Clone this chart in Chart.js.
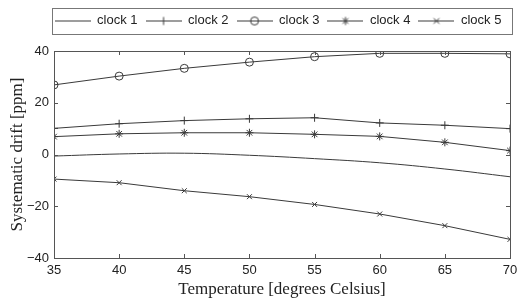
<!DOCTYPE html>
<html>
<head>
<meta charset="utf-8">
<script src="https://cdn.jsdelivr.net/npm/chart.js@4.4.1/dist/chart.umd.min.js"></script>
<style>
  html, body { margin: 0; padding: 0; background: #fff; }
  #wrap { width: 518px; height: 303px; }
</style>
</head>
<body>
<div id="wrap"><canvas id="myChart"></canvas></div>
<script>
var temps = [35, 40, 45, 50, 55, 60, 65, 70];
var names = ["clock 1", "clock 2", "clock 3", "clock 4", "clock 5"];
var clock1 = [-0.6, 0.2, 0.5, -0.3, -1.6, -3.2, -5.6, -8.6];
var clock2 = [10.1, 11.9, 13.1, 13.8, 14.2, 12.2, 11.3, 10.0];
var clock3 = [26.9, 30.3, 33.3, 35.7, 37.8, 39.1, 39.1, 38.9];
var clock4 = [6.9, 8.0, 8.4, 8.4, 7.8, 7.0, 4.7, 1.5];
var clock5 = [-9.5, -10.9, -14.0, -16.3, -19.3, -23.0, -27.5, -32.8];
var markers = [false, "cross", "circle", "star", "crossRot"];
var lineColor = "#3a3a3a";

function pts(vals) {
  return vals.map(function (v, i) { return {x: temps[i], y: v}; });
}

// legend sample: short line with the marker in the middle
function sample(style) {
  var c = document.createElement("canvas");
  c.width = 36; c.height = 12;
  var g = c.getContext("2d");
  g.strokeStyle = lineColor;
  g.lineWidth = 1;
  g.beginPath(); g.moveTo(0, 6.5); g.lineTo(36, 6.5); g.stroke();
  var cx = 18, cy = 6.5, r = 4;
  g.beginPath();
  if (style === "circle") {
    g.arc(cx, cy, r, 0, Math.PI * 2);
  } else if (style === "cross" || style === "star") {
    g.moveTo(cx, cy - r); g.lineTo(cx, cy + r);
    g.moveTo(cx - r, cy); g.lineTo(cx + r, cy);
  }
  if (style === "crossRot" || style === "star") {
    var d = r * 0.7;
    g.moveTo(cx - d, cy - d); g.lineTo(cx + d, cy + d);
    g.moveTo(cx + d, cy - d); g.lineTo(cx - d, cy + d);
  }
  g.stroke();
  return c;
}

var series = [clock1, clock2, clock3, clock4, clock5];
var datasets = series.map(function (s, i) {
  return {
    label: names[i],
    data: pts(s),
    borderColor: lineColor,
    borderWidth: 1,
    backgroundColor: "transparent",
    pointStyle: markers[i],
    pointRadius: markers[i] ? (markers[i] === "crossRot" ? 3.5 : 4) : 0,
    pointBorderColor: lineColor,
    pointBorderWidth: 1,
    pointBackgroundColor: "transparent",
    tension: i === 0 ? 0.4 : 0
  };
});
var samples = markers.map(function (m) { return sample(m); });

var framePlugin = {
  id: "frame",
  beforeLayout: function (chart) {
    var lg = chart.legend;
    if (lg && !lg._patched) {
      var fit = lg.fit;
      lg.fit = function () { fit.call(this); this.height = 45; };
      lg._patched = true;
    }
  },
  afterLayout: function (chart) {
    var lg = chart.legend;
    lg.left = 34; lg.right = 522; lg.width = lg.right - lg.left;
  },
  afterDraw: function (chart) {
    var ctx = chart.ctx, a = chart.chartArea;
    var xs = chart.scales.x, ys = chart.scales.y;
    ctx.save();
    ctx.strokeStyle = "#555";
    ctx.lineWidth = 1;
    ctx.strokeRect(Math.round(a.left) + 0.5, Math.round(a.top) + 0.5,
                   Math.round(a.right - a.left), Math.round(a.bottom - a.top));
    ctx.beginPath();
    xs.ticks.forEach(function (t) {
      var x = Math.round(xs.getPixelForValue(t.value)) + 0.5;
      ctx.moveTo(x, a.bottom); ctx.lineTo(x, a.bottom - 4);
      ctx.moveTo(x, a.top); ctx.lineTo(x, a.top + 4);
    });
    ys.ticks.forEach(function (t) {
      var y = Math.round(ys.getPixelForValue(t.value)) + 0.5;
      ctx.moveTo(a.left, y); ctx.lineTo(a.left + 4, y);
      ctx.moveTo(a.right, y); ctx.lineTo(a.right - 4, y);
    });
    ctx.stroke();
    ctx.strokeStyle = "#777";
    ctx.strokeRect(52.5, 8.5, 460, 26);
    ctx.restore();
  }
};

new Chart("myChart", {
  type: "line",
  data: { datasets: datasets },
  plugins: [framePlugin],
  options: {
    responsive: true,
    maintainAspectRatio: false,
    animation: false,
    layout: { padding: { left: 0, right: 0, top: 6, bottom: 0 } },
    plugins: {
      tooltip: { enabled: false },
      legend: {
        position: "top",
        labels: {
          color: "#222",
          font: { family: "'Liberation Sans', Arial", size: 13 },
          usePointStyle: true,
          pointStyleWidth: 36,
          padding: 8,
          generateLabels: function (chart) {
            return chart.data.datasets.map(function (ds, i) {
              return {
                text: ds.label,
                pointStyle: samples[i],
                fillStyle: "transparent",
                strokeStyle: "transparent",
                lineWidth: 0,
                fontColor: "#222",
                datasetIndex: i
              };
            });
          }
        }
      }
    },
    scales: {
      x: {
        type: "linear",
        min: 35, max: 70,
        grid: { display: false, drawTicks: false },
        border: { display: false },
        ticks: {
          stepSize: 5, padding: 5, color: "#222",
          font: { family: "'Liberation Sans', Arial", size: 13 }
        },
        title: {
          display: true, text: "Temperature [degrees Celsius]", color: "#222",
          font: { family: "'Liberation Serif', 'Times New Roman'", size: 17 },
          padding: { top: 0, bottom: 3 }
        },
        afterFit: function (s) {
          s.height = 45;
          s.paddingLeft = 0;
          s.paddingRight = 8;
        }
      },
      y: {
        min: -40, max: 40,
        grid: { display: false, drawTicks: false },
        border: { display: false },
        ticks: {
          stepSize: 20, padding: 5, color: "#222",
          font: { family: "'Liberation Sans', Arial", size: 13 },
          callback: function (v) { return String(v).replace("-", "\u2212"); }
        },
        title: {
          display: true, text: "Systematic drift [ppm]", color: "#222",
          font: { family: "'Liberation Serif', 'Times New Roman'", size: 17 },
          padding: { top: 7, bottom: 0 }
        },
        afterFit: function (s) { s.width = 54; }
      }
    }
  }
});
</script>
</body>
</html>
